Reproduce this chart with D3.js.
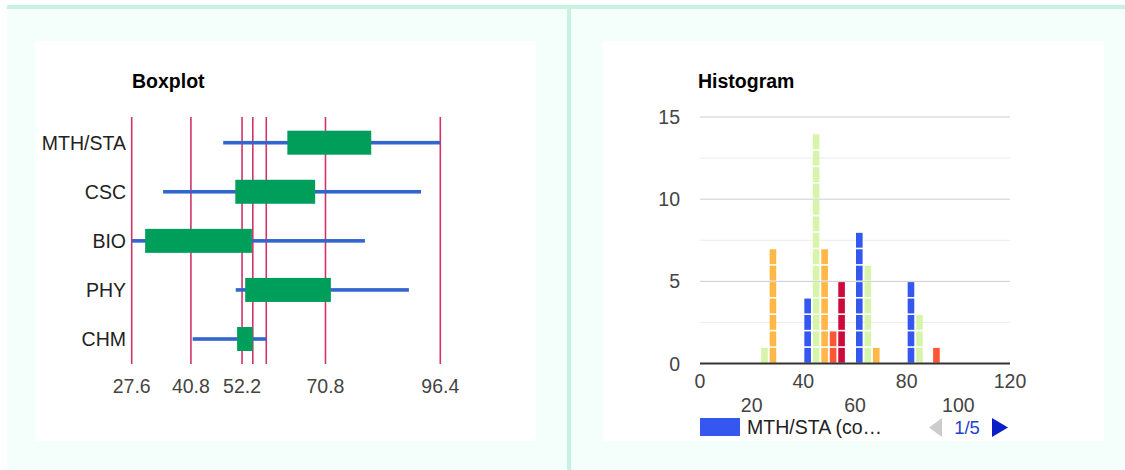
<!DOCTYPE html>
<html><head><meta charset="utf-8">
<script src="https://cdn.jsdelivr.net/npm/d3@7"></script>
<style>html,body{margin:0;padding:0;background:#fff}svg{display:block}text{font-family:"Liberation Sans",Arial,sans-serif}</style>
</head><body><svg id="c" width="1125" height="470"></svg>
<script>
// ---- data ----
const categories = ["MTH/STA", "CSC", "BIO", "PHY", "CHM"];
const boxMin = [48.0, 34.6, 27.6, 50.8, 41.2];
const boxQ1  = [62.3, 50.7, 30.6, 52.9, 51.1];
const boxQ3  = [81.0, 68.5, 54.4, 72.0, 54.6];
const boxMax = [96.4, 92.1, 79.6, 89.4, 57.6];
const boxGridValues = [27.6, 40.8, 52.2, 54.6, 57.6, 70.8, 96.4];
const boxTickLabels = ["27.6", "40.8", "52.2", "70.8", "96.4"];

const seriesNames = ["MTH/STA", "CSC", "BIO", "PHY", "CHM"];
const seriesColors = ["#3457f0", "#d6f5aa", "#ffb847", "#ff5733", "#cc0a3c"];
const bucketStarts = [20, 40, 60, 80];
const countsMTH = [0, 4, 8, 5];
const countsCSC = [1, 14, 6, 3];
const countsBIO = [7, 7, 1, 0];
const countsPHY = [0, 2, 0, 1];
const countsCHM = [0, 5, 0, 0];
const histCounts = [countsMTH, countsCSC, countsBIO, countsPHY, countsCHM];
const histYTicks = [0, 5, 10, 15];
const histYMinor = [2.5, 7.5, 12.5];
const histXTicksRow1 = [0, 40, 80, 120];
const histXTicksRow2 = [20, 60, 100];
const legendText = "MTH/STA (co…";
const pageText = "1/5";

// ---- layout ----
const svg = d3.select("#c");
svg.append("rect").attr("x", 7).attr("y", 5).attr("width", 1118).attr("height", 465).attr("fill", "#f4fffb");
svg.append("rect").attr("x", 7).attr("y", 5).attr("width", 1118).attr("height", 4).attr("fill", "#c9f1df");
svg.append("rect").attr("x", 567).attr("y", 9).attr("width", 4).attr("height", 461).attr("fill", "#c9f1df");
svg.append("rect").attr("x", 35).attr("y", 41).attr("width", 501).attr("height", 400).attr("fill", "#fff");
svg.append("rect").attr("x", 603).attr("y", 41).attr("width", 501).attr("height", 400).attr("fill", "#fff");

const FS = 19.5;

// ---- boxplot ----
const bx = d3.scaleLinear().domain([27.6, 96.4]).range([131.7, 440.3]);
const by = d3.scalePoint().domain(categories).range([142.7, 339]);
const bp = svg.append("g");
bp.append("text").attr("x", 132).attr("y", 88).attr("font-size", FS).attr("font-weight", "bold").attr("fill", "#000").text("Boxplot");
bp.selectAll("line.grid").data(boxGridValues).join("line")
  .attr("x1", d => bx(d)).attr("x2", d => bx(d)).attr("y1", 117).attr("y2", 364)
  .attr("stroke", "#d2336a").attr("stroke-width", 1.6);
bp.selectAll("text.tick").data(boxTickLabels).join("text")
  .attr("x", d => bx(+d)).attr("y", 393).attr("text-anchor", "middle")
  .attr("font-size", FS).attr("fill", "#444").text(d => d);
bp.selectAll("text.cat").data(categories).join("text")
  .attr("x", 126).attr("y", d => by(d) + 7).attr("text-anchor", "end")
  .attr("font-size", FS).attr("fill", "#222").text(d => d);
bp.selectAll("rect.wh").data(categories).join("rect")
  .attr("x", (d, i) => bx(boxMin[i])).attr("width", (d, i) => bx(boxMax[i]) - bx(boxMin[i]))
  .attr("y", d => by(d) - 1.8).attr("height", 3.6).attr("fill", "#3366cc");
bp.selectAll("rect.box").data(categories).join("rect")
  .attr("x", (d, i) => bx(boxQ1[i])).attr("width", (d, i) => bx(boxQ3[i]) - bx(boxQ1[i]))
  .attr("y", d => by(d) - 12).attr("height", 24).attr("fill", "#009e5b");

// ---- histogram ----
const hx = d3.scaleLinear().domain([0, 120]).range([700, 1010]);
const hy = d3.scaleLinear().domain([0, 15]).range([363.5, 117]);
const hs = d3.scaleBand().domain(seriesNames).range([0, hx(15.7) - hx(0)]).paddingInner(0.22);
const hg = svg.append("g");
hg.append("text").attr("x", 698).attr("y", 88).attr("font-size", FS).attr("font-weight", "bold").attr("fill", "#000").text("Histogram");
hg.selectAll("line.minor").data(histYMinor).join("line")
  .attr("x1", hx(0)).attr("x2", hx(120)).attr("y1", d => hy(d)).attr("y2", d => hy(d))
  .attr("stroke", "#ebebeb").attr("stroke-width", 1);
hg.selectAll("line.major").data(histYTicks.filter(d => d > 0)).join("line")
  .attr("x1", hx(0)).attr("x2", hx(120)).attr("y1", d => hy(d)).attr("y2", d => hy(d))
  .attr("stroke", "#cccccc").attr("stroke-width", 1);
hg.selectAll("text.yt").data(histYTicks).join("text")
  .attr("x", 680).attr("y", d => hy(d) + 7).attr("text-anchor", "end")
  .attr("font-size", FS).attr("fill", "#444").text(d => d);

const blocks = [];
histCounts.forEach((arr, si) => arr.forEach((c, bi) => {
  for (let k = 0; k < c; k++) blocks.push({ s: si, b: bi, k: k });
}));
hg.selectAll("rect.blk").data(blocks).join("rect")
  .attr("x", d => hx(bucketStarts[d.b]) + 1 + hs(seriesNames[d.s]))
  .attr("width", hs.bandwidth())
  .attr("y", d => hy(d.k + 1) + 0.8)
  .attr("height", d => hy(d.k) - hy(d.k + 1) - 1.6)
  .attr("fill", d => seriesColors[d.s]);

hg.append("line").attr("x1", hx(0)).attr("x2", hx(120)).attr("y1", hy(0)).attr("y2", hy(0))
  .attr("stroke", "#333").attr("stroke-width", 2);
hg.selectAll("text.xt1").data(histXTicksRow1).join("text")
  .attr("x", d => hx(d)).attr("y", 388).attr("text-anchor", "middle")
  .attr("font-size", FS).attr("fill", "#444").text(d => d);
hg.selectAll("text.xt2").data(histXTicksRow2).join("text")
  .attr("x", d => hx(d)).attr("y", 412).attr("text-anchor", "middle")
  .attr("font-size", FS).attr("fill", "#444").text(d => d);

// legend
hg.append("rect").attr("x", 700).attr("y", 418).attr("width", 40).attr("height", 18).attr("fill", seriesColors[0]);
hg.append("text").attr("x", 747).attr("y", 434).attr("font-size", FS).attr("fill", "#222").text(legendText);
hg.append("path").attr("d", "M942,418 L942,437 L929,427.5 Z").attr("fill", "#cccccc");
hg.append("text").attr("x", 967).attr("y", 434).attr("text-anchor", "middle").attr("font-size", FS - 1).attr("fill", "#1f3fd1").text(pageText);
hg.append("path").attr("d", "M992,418 L992,437 L1008,427.5 Z").attr("fill", "#0a1fc6");
</script></body></html>
